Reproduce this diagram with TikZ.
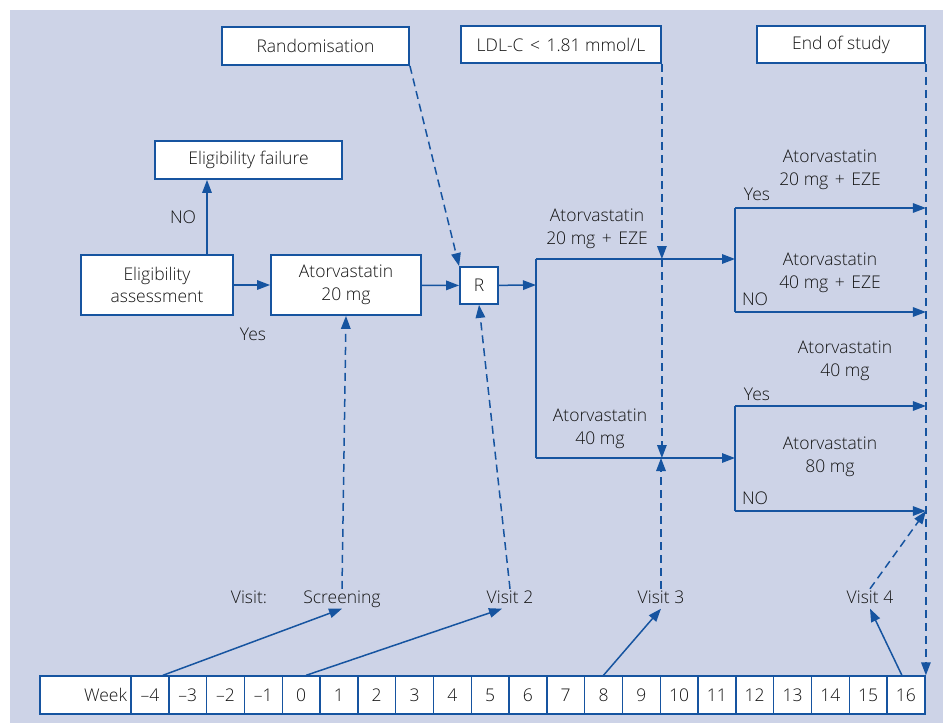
\documentclass[tikz,border=0pt]{standalone}
\usepackage{fontspec}
\IfFontExistsTF{Open Sans Light}{\setmainfont{Open Sans Light}}{\setmainfont{Open Sans}}
\usetikzlibrary{arrows.meta}
\definecolor{fondo}{RGB}{205,211,231}
\definecolor{blu}{RGB}{22,84,160}
\newcommand{\conspazi}[1]{\hspace{6.5pt}#1\hspace{6.5pt}}
\begin{document}
\begin{tikzpicture}[x=1pt,y=-1pt,
    font=\fontsize{17.5}{22.5}\selectfont,text=black!92,
    box/.style={draw=blu,line width=1.8pt,fill=white,inner sep=0pt,align=center},
    cella/.style={draw=blu,line width=1.4pt,fill=white,minimum height=38pt,minimum width=37.8pt,inner sep=0pt},
    testo/.style={align=center,inner sep=1pt},
    visita/.style={inner sep=2pt,text height=12pt,text depth=3.5pt,anchor=base},
    linea/.style={draw=blu,line width=1.5pt},
    freccia/.style={linea,-{Triangle[length=13pt,width=9.5pt]}},
    tratt/.style={freccia,dash pattern=on 8pt off 5pt}]

    % Sfondo
    \useasboundingbox (0,0) rectangle (943,723);
    \fill[fondo] (10,10) rectangle (943,723);

    % Riquadri in alto
    \node[box,minimum width=187pt,minimum height=38pt] (rand) at (315.5,46) {Randomisation};
    \node[box,minimum width=200pt,minimum height=37pt] (ldl) at (561,44.5) {LDL-C\conspazi{<}1.81 mmol/L};
    \node[box,minimum width=168pt,minimum height=37pt] (fine) at (841,44.5) {End of study};

    % Riquadri del percorso
    \node[box,minimum width=187pt,minimum height=38pt] (fail) at (248.5,160) {Eligibility failure};
    \node[box,minimum width=152pt,minimum height=60pt] (elig) at (157,285) {Eligibility\\assessment};
    \node[box,minimum width=150pt,minimum height=60pt] (ator) at (346,285) {Atorvastatin\\20 mg};
    \node[box,minimum width=38pt,minimum height=37pt] (R) at (479,285.5) {R};

    % Punti di diramazione
    \coordinate (bm) at (536,285);
    \coordinate (bu) at (536,259);
    \coordinate (bl) at (536,458);
    \coordinate (Ay) at (735,208);
    \coordinate (An) at (735,312);
    \coordinate (By) at (735,406);
    \coordinate (Bn) at (735,511);

    % Frecce del percorso
    \draw[freccia] ([xshift=50pt]elig.north) -- ([xshift=50pt]elig.north |- fail.south);
    \draw[freccia] (elig) -- (ator);
    \draw[freccia] (ator) -- (R);
    \draw[freccia] (R) -- (bm);
    \draw[linea] (bu) -- (bl);
    \draw[freccia] (bu) -- (Ay |- bu);
    \draw[freccia] (bl) -- (By |- bl);
    \draw[linea] (Ay) -- (An);
    \draw[linea] (By) -- (Bn);
    \draw[freccia] (Ay) -- (Ay -| fine.south east);
    \draw[freccia] (An) -- (An -| fine.south east);
    \draw[freccia] (By) -- (By -| fine.south east);
    \draw[freccia] (Bn) -- (Bn -| fine.south east);

    % Etichette
    \node[testo] (no0) at (183,217) {NO};
    \node[testo] (yes0) at (253,334) {Yes};
    \node[testo] (t20eze) at (597,229) {Atorvastatin\\20 mg\conspazi{+}EZE};
    \node[testo] (t40) at (600,429) {Atorvastatin\\40 mg};
    \node[testo] (r20eze) at (830,170) {Atorvastatin\\20 mg\conspazi{+}EZE};
    \node[testo] (r40eze) at (830,273) {Atorvastatin\\40 mg\conspazi{+}EZE};
    \node[testo] (r40) at (845,361) {Atorvastatin\\40 mg};
    \node[testo] (r80) at (830,457) {Atorvastatin\\80 mg};
    \node[testo] (yes1) at (757,194) {Yes};
    \node[testo] (no1) at (755,299) {NO};
    \node[testo] (yes2) at (757,394) {Yes};
    \node[testo] (no2) at (755,498) {NO};

    % Visite
    \node[visita] (visit) at (249,603) {Visit:};
    \node[visita] (scr) at (342,603) {Screening};
    \node[visita] (v2) at (510,603) {Visit 2};
    \node[visita] (v3) at (661,603) {Visit 3};
    \node[visita] (v4) at (870,603) {Visit 4};

    % Settimane
    \node[cella,minimum width=91pt,text width=83pt,align=right] (week) at (85.5,695) {Week};
    \foreach \k in {-4,...,16}
        \node[cella] (wk\k) at ({131+37.8*(\k+4.5)},695) {\ifnum\k<0 –\the\numexpr-\k\relax\else\k\fi};

    % Dalle settimane alle visite
    \draw[freccia] ([xshift=13pt]wk-4.north) -- (scr.south);
    \draw[freccia] ([xshift=5pt]wk0.north) -- ([xshift=-8pt]v2.south);
    \draw[freccia] (wk8.north) -- (v3.south);
    \draw[freccia] ([xshift=-4pt]wk16.north) -- (v4.south);

    % Linee tratteggiate
    \draw[tratt] (rand.south east) -- (R.north west);
    \draw[tratt] (scr.north) -- (ator.south);
    \draw[tratt] (v2.north) -- (R.south);
    \draw[tratt] (ldl.south east) -- (ldl.south east |- bu);
    \draw[tratt] (ldl.south east |- bu) -- (ldl.south east |- bl);
    \draw[tratt] (v3.north) -- (v3.north |- bl);
    \draw[tratt] (fine.south east) -- (fine.south east |- wk16.north);
    \draw[tratt] (v4.north) -- (fine.south east |- Bn);

\end{tikzpicture}
\end{document}
